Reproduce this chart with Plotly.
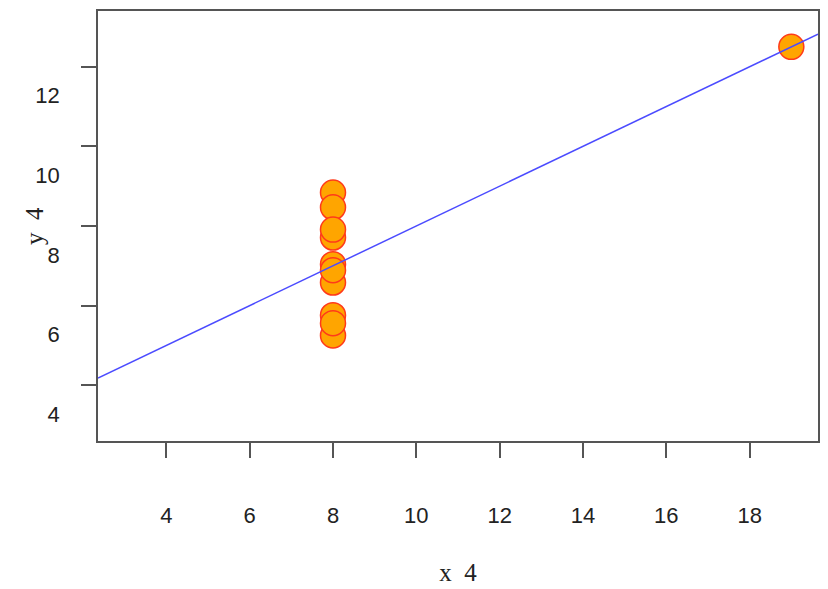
import numpy as np
import plotly.graph_objects as go

# Anscombe's quartet, set 4
x4 = [8, 8, 8, 8, 8, 8, 8, 19, 8, 8, 8]
y4 = [6.58, 5.76, 7.71, 8.84, 8.47, 7.04, 5.25, 12.50, 5.56, 7.91, 6.89]

x_ticks = [4, 6, 8, 10, 12, 14, 16, 18]
y_ticks = [4, 6, 8, 10, 12]
x_range = [2.36, 19.64]
y_range = [2.6, 13.4]

# least squares fit, drawn across the whole x range
slope, intercept = np.polyfit(x4, y4, 1)
fit_x = np.array(x_range)
fit_y = intercept + slope * fit_x

tick_font = dict(family="Liberation Sans Narrow, Liberation Sans, sans-serif",
                 size=22, color="#222")
title_font = dict(family="Liberation Serif, DejaVu Serif, serif", size=25, color="#222")

fig = go.Figure()
fig.add_trace(go.Scatter(x=x4, y=y4, mode="markers",
                         marker=dict(size=25, color="#FFA500",
                                     line=dict(color="#FF3A1A", width=1.5))))
fig.add_trace(go.Scatter(x=fit_x, y=fit_y, mode="lines",
                         line=dict(color="#4B4BFF", width=1.5)))

fig.update_layout(
    width=828, height=589,
    margin=dict(l=90, r=18, t=3, b=156),
    paper_bgcolor="white", plot_bgcolor="white",
    showlegend=False,
)
fig.update_xaxes(range=x_range, tickvals=x_ticks, showgrid=False, zeroline=False,
                 automargin=False,
                 showline=True, mirror=True, linecolor="#555", linewidth=1.5,
                 ticks="outside", ticklen=15, tickcolor="#555", tickwidth=1.5,
                 ticklabelstandoff=39, tickfont=tick_font,
                 title=dict(text="x  4", font=title_font, standoff=36))
fig.update_yaxes(range=y_range, tickvals=y_ticks, showgrid=False, zeroline=False,
                 automargin=False,
                 showline=True, mirror=True, linecolor="#555", linewidth=1.5,
                 ticks="outside", ticklen=15, tickcolor="#555", tickwidth=1.5,
                 ticklabelshift=29, ticklabelstandoff=17, tickfont=tick_font)
# y title placed by hand, it sits close to the tick labels
fig.add_annotation(text="y  4", font=title_font, textangle=-90,
                   xref="paper", yref="paper", x=0, y=0.5,
                   xanchor="center", yanchor="middle", xshift=-64, showarrow=False)

fig.write_html("out.html")
